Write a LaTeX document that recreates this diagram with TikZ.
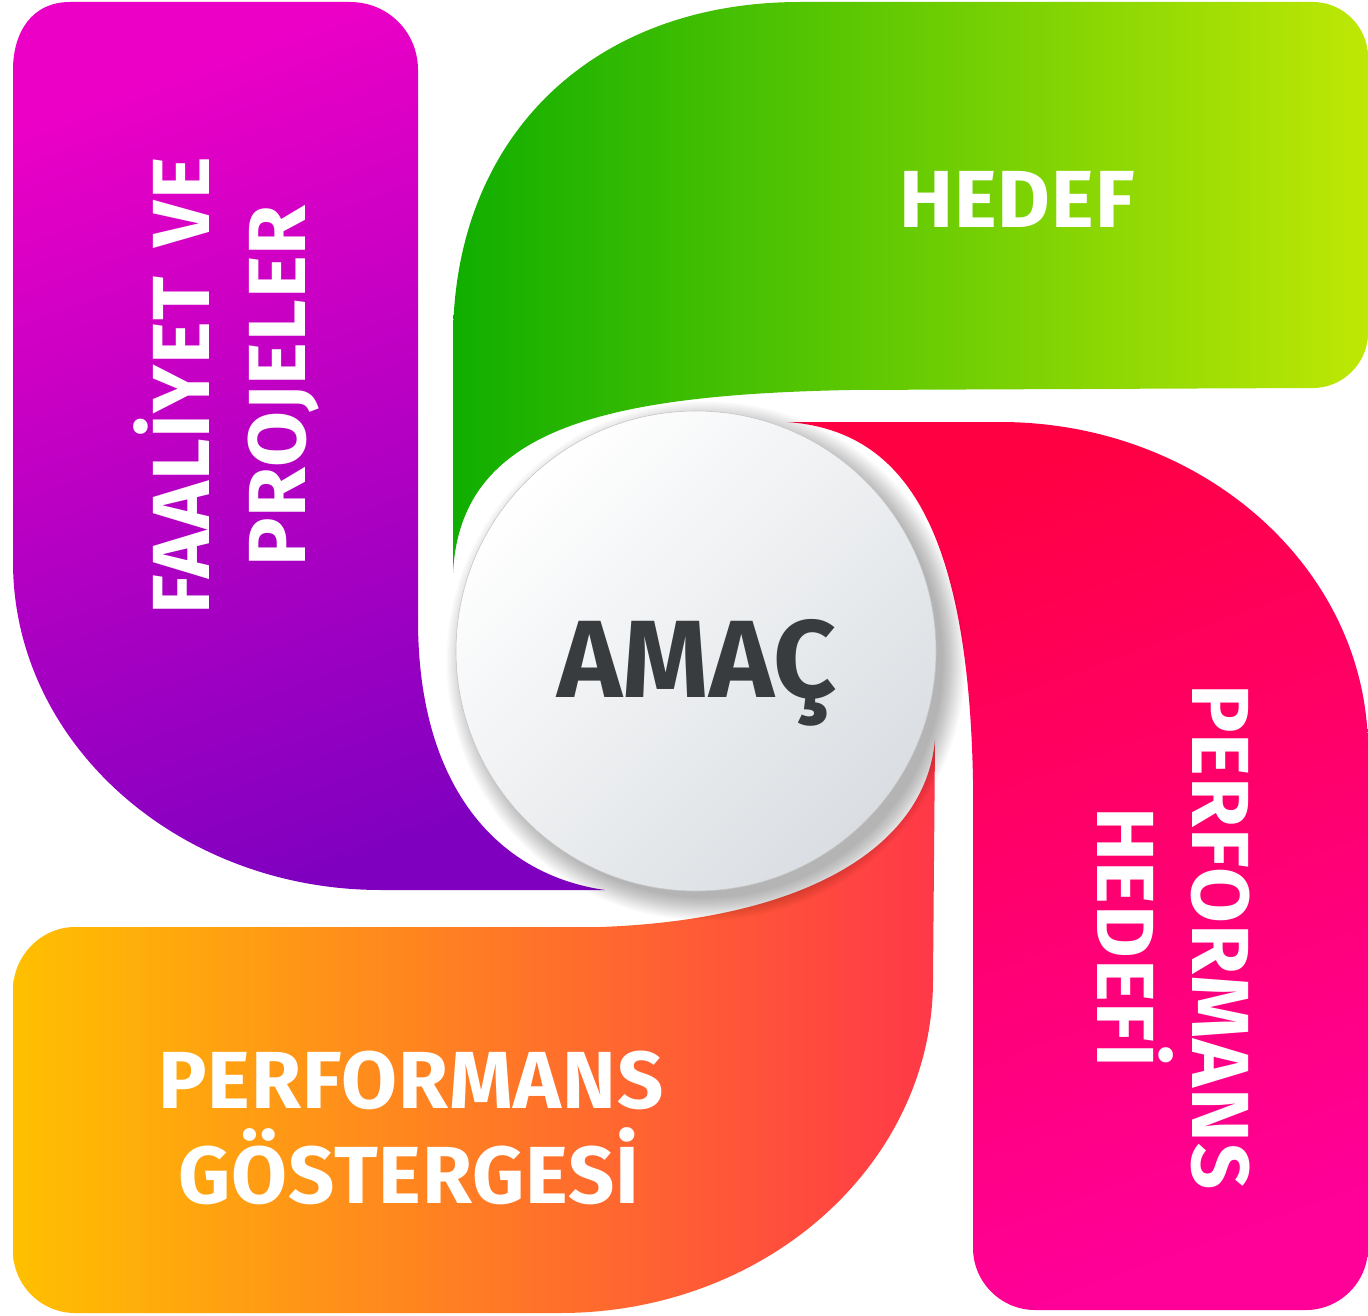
\documentclass[tikz,border=0pt]{standalone}
\usepackage{fontspec}
\setmainfont{Fira Sans}
\newfontfamily\labelfont{Fira Sans}[LetterSpace=1.2, WordSpace=1.5]
\definecolor{pTop}{HTML}{EC00C6}
\definecolor{pBot}{HTML}{8000C0}
\definecolor{gL}{HTML}{10AE00}
\definecolor{gR}{HTML}{BEE805}
\definecolor{kTop}{HTML}{FF0042}
\definecolor{kBot}{HTML}{FF0098}
\definecolor{oL}{HTML}{FFC000}
\definecolor{oM}{HTML}{FF8026}
\definecolor{oR}{HTML}{FF3848}
\definecolor{amacgray}{HTML}{393C3F}
\definecolor{circgray}{HTML}{DADEE2}
\tikzset{
  label/.style={text=white, font=\labelfont\bfseries\fontsize{81}{96}\selectfont, inner sep=0pt, anchor=base},
  centre/.style={circle, minimum size=480pt, inner sep=0pt, shading=axis, top color=white, bottom color=circgray, shading angle=45, draw=black!22, line width=0.6pt}
}
\begin{document}
\begin{tikzpicture}[x=1pt,y=-1pt]
\useasboundingbox (0,0) rectangle (1368,1316);
\fill[white] (0,0) rectangle (1368,1316);

% purple petal (top-left)
\shade[top color=pTop, bottom color=pBot, shading angle=20]
  (13,70) .. controls (13,32) and (32,2) .. (70,2)
  -- (350,2) .. controls (388,2) and (418,32) .. (418,70)
  -- (418,620) .. controls (418,790) and (500,875) .. (605,890)
  -- (381,890) .. controls (178,890) and (13,743) .. (13,562)
  -- cycle;

% green petal (top-right)
\shade[left color=gL, right color=gR]
  (453,573) -- (453,340) .. controls (453,137) and (592,2) .. (800,2)
  -- (1313,2) .. controls (1343,2) and (1368,27) .. (1368,57)
  -- (1368,333) .. controls (1368,363) and (1343,388) .. (1313,388)
  -- (850,390) .. controls (600,395) and (460,430) .. (453,573)
  -- cycle;

% pink petal (bottom-right)
\shade[top color=kTop, bottom color=kBot, shading angle=20]
  (787,422) -- (1000,422) .. controls (1203,422) and (1368,569) .. (1368,750)
  -- (1368,1248) .. controls (1368,1282) and (1340,1310) .. (1306,1310)
  -- (1035,1310) .. controls (1001,1310) and (973,1282) .. (973,1248)
  -- (973,780) .. controls (968,520) and (900,430) .. (787,422)
  -- cycle;

% orange petal (bottom-left)
\shade[left color=oL, middle color=oM, right color=oR]
  (935,740) -- (933,980) .. controls (933,1164) and (766,1313) .. (560,1313)
  -- (75,1313) .. controls (41,1313) and (13,1285) .. (13,1251)
  -- (13,990) .. controls (13,956) and (41,927) .. (75,927)
  -- (600,927) .. controls (800,920) and (925,850) .. (935,740)
  -- cycle;

% soft shadow of the centre disc
\foreach \i in {0,...,15}{
  \pgfmathsetmacro\rr{237+1.5*\i}
  \fill[black, opacity=0.02] (706,661) circle[radius=\rr pt];
}

% centre disc
\node[centre] (amac) at (696,651) {};
\node[text=amacgray, font=\bfseries\fontsize{110}{120}\selectfont, inner sep=0pt, anchor=base] (amactxt) at (697,697) {AMAÇ};

% labels
\node[label, rotate=90] (fa1) at (209,386) {FAALİYET VE};
\node[label, rotate=90] (fa2) at (305,386) {PROJELER};
\node[label] (hedef) at (1017,228) {HEDEF};
\node[label, rotate=-90] (ph1) at (1192,937) {PERFORMANS};
\node[label, rotate=-90] (ph2) at (1097,937) {HEDEFİ};
\node[label] (pg1) at (411,1108) {PERFORMANS};
\node[label] (pg2) at (409,1203) {GÖSTERGESİ};
\end{tikzpicture}
\end{document}
